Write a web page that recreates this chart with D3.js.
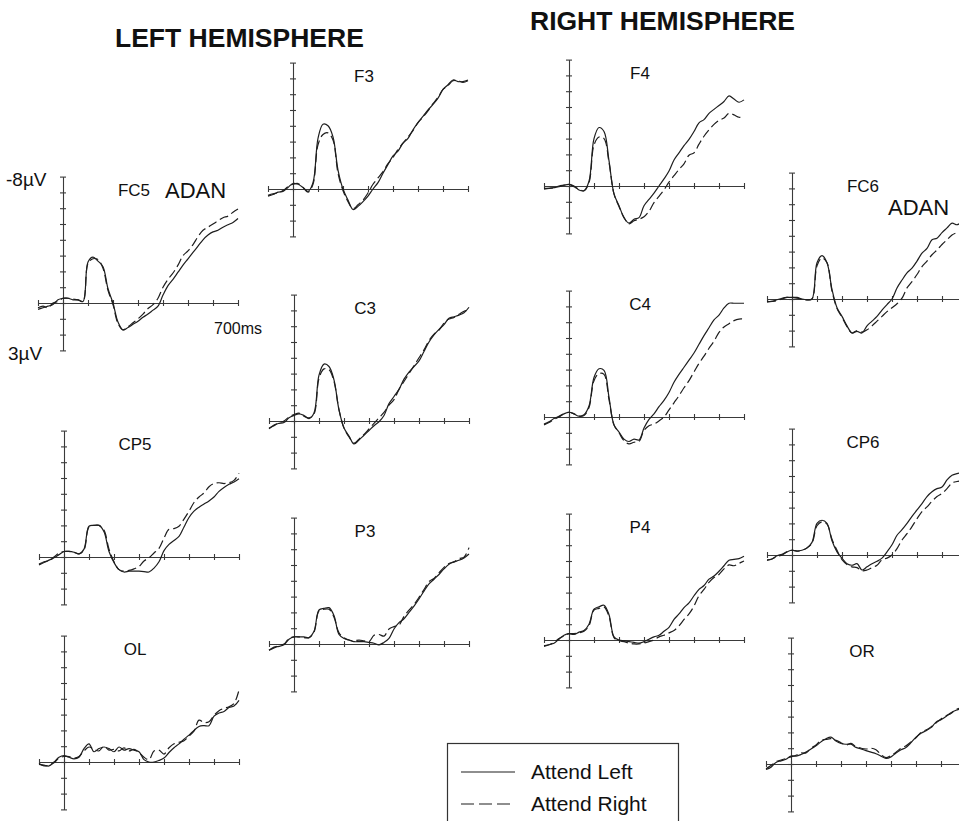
<!DOCTYPE html>
<html>
<head>
<meta charset="utf-8">
<script src="https://cdn.jsdelivr.net/npm/d3@7"></script>
<style>
  html, body { margin: 0; padding: 0; background: #fff; }
  svg { display: block; font-family: "Liberation Sans", Arial, Helvetica, sans-serif; }
  .axis path, .axis line { stroke: #3a3a3a; stroke-width: 1.1; }
  .trace { fill: none; stroke: #1e1e1e; stroke-width: 1.2; }
  .trace--right { stroke-dasharray: 9,4; }
</style>
</head>
<body>
<svg id="chart" width="959" height="821"></svg>
<script>
// sampling times, ms
var times = [-100, -80, -60, -40, -20, 0, 20, 40, 60, 80, 100, 120, 140, 160, 180, 200, 220, 240, 260, 280,
  300, 320, 340, 360, 380, 400, 420, 440, 460, 480, 500, 520, 540, 560, 580, 600, 620, 640, 660, 680, 700]

var xTicks = [-100, 0, 100, 200, 300, 400, 500, 600, 700]
var yTicks = [-8, -7, -6, -5, -4, -3, -2, -1, 0, 1, 2, 3]

var electrodes = ['FC5', 'CP5', 'OL', 'F3', 'C3', 'P3', 'F4', 'C4', 'P4', 'FC6', 'CP6', 'OR']

var conditions = ['Attend Left', 'Attend Right']

// µV, negative plotted up
var fc5Left = [0.4, 0.3, 0.2, 0.1, -0.2, -0.3, -0.3, -0.2, -0.2, -0.1, -2.6, -2.9, -2.65, -2.3, -0.9, 0.0, 1.2, 1.7, 1.55, 1.35,
  1.15, 0.9, 0.7, 0.45, 0.2, -0.5, -1.1, -1.5, -1.95, -2.4, -2.8, -3.2, -3.6, -4.0, -4.3, -4.5, -4.6, -4.8, -4.95, -5.1, -5.35]
var fc5Right = [0.3, 0.2, 0.3, 0.0, -0.1, -0.3, -0.3, -0.25, -0.2, -0.1, -2.5, -2.8, -2.75, -2.2, -0.8, 0.1, 1.3, 1.7, 1.5, 1.25,
  1.0, 0.7, 0.35, 0.1, -0.3, -1.0, -1.5, -1.9, -2.4, -3.0, -3.3, -3.7, -4.2, -4.6, -4.8, -5.0, -5.2, -5.4, -5.5, -5.75, -5.95]

var cp5Left = [0.5, 0.35, 0.2, 0.05, -0.15, -0.35, -0.35, -0.3, -0.2, -0.5, -1.95, -2.0, -2.0, -1.6, -0.35, 0.35, 0.8, 0.95, 0.9, 0.9,
  0.9, 0.92, 0.95, 0.7, 0.3, -0.4, -0.8, -1.05, -1.3, -1.9, -2.5, -2.9, -3.15, -3.35, -3.55, -3.8, -4.15, -4.4, -4.6, -4.75, -4.95]
var cp5Right = [0.45, 0.3, 0.25, 0.0, -0.25, -0.35, -0.35, -0.3, -0.2, -0.45, -1.9, -2.0, -2.0, -1.7, -0.5, 0.3, 0.8, 0.9, 0.85, 0.75,
  0.6, 0.25, 0.05, -0.25, -0.55, -1.2, -1.75, -1.8, -1.95, -2.4, -2.9, -3.45, -3.8, -4.05, -4.45, -4.65, -4.7, -4.65, -4.7, -4.85, -5.3]

var olLeft = [0.15, 0.2, 0.25, 0.0, -0.3, -0.4, -0.3, -0.2, -0.3, -0.85, -1.15, -0.65, -0.85, -0.95, -0.85, -0.65, -0.95, -0.75, -0.85, -0.75,
  -0.65, -0.15, 0.0, 0.0, -0.1, -0.25, -0.6, -0.9, -1.15, -1.45, -1.7, -2.0, -2.25, -2.3, -2.3, -2.9, -3.1, -3.2, -3.45, -3.55, -3.9]
var olRight = [0.1, 0.25, 0.2, 0.05, -0.25, -0.35, -0.35, -0.25, -0.35, -0.7, -0.95, -0.8, -0.7, -1.0, -0.75, -0.8, -0.7, -0.9, -0.7, -0.8,
  -0.6, -0.3, -0.15, -0.7, -0.75, -0.5, -0.9, -1.15, -1.25, -1.35, -1.65, -1.95, -2.65, -2.5, -2.55, -2.95, -3.25, -3.4, -3.5, -3.7, -4.55]

var f3Left = [0.45, 0.35, 0.2, 0.15, -0.1, -0.35, -0.3, -0.1, 0.15, -0.4, -3.2, -4.1, -4.0, -3.3, -1.2, 0.0, 0.7, 1.3, 1.1, 0.8,
  0.45, 0.0, -0.4, -1.0, -1.55, -2.1, -2.4, -2.9, -3.2, -3.75, -4.2, -4.6, -5.0, -5.35, -5.75, -6.3, -6.6, -6.9, -6.8, -6.8, -6.9]
var f3Right = [0.4, 0.3, 0.25, 0.1, -0.15, -0.3, -0.35, -0.1, 0.2, -0.3, -2.8, -3.45, -3.55, -3.1, -1.0, 0.1, 0.8, 1.25, 1.0, 0.7,
  0.25, -0.3, -0.7, -1.1, -1.6, -2.0, -2.5, -2.9, -3.3, -3.7, -4.2, -4.55, -4.95, -5.4, -5.8, -6.3, -6.55, -6.85, -6.85, -6.75, -6.85]

var c3Left = [0.5, 0.25, 0.15, 0.1, -0.2, -0.35, -0.45, -0.35, -0.15, -0.5, -2.9, -3.6, -3.45, -2.6, -0.7, 0.45, 0.95, 1.45, 1.2, 0.9,
  0.6, 0.3, 0.05, -0.35, -1.1, -1.55, -2.0, -2.65, -3.1, -3.45, -3.8, -4.4, -5.0, -5.45, -5.8, -6.1, -6.5, -6.6, -6.7, -6.85, -7.2]
var c3Right = [0.45, 0.3, 0.1, 0.0, -0.25, -0.4, -0.5, -0.3, -0.2, -0.45, -2.7, -3.3, -3.25, -2.5, -0.7, 0.45, 1.0, 1.4, 1.15, 0.85,
  0.5, 0.15, -0.2, -0.55, -1.0, -1.35, -2.0, -2.5, -3.0, -3.5, -4.0, -4.5, -5.1, -5.5, -5.75, -6.2, -6.45, -6.55, -6.75, -6.95, -7.0]

var p3Left = [0.4, 0.2, 0.15, 0.05, -0.3, -0.45, -0.45, -0.45, -0.4, -0.8, -2.15, -2.25, -2.3, -1.8, -0.6, -0.35, -0.25, -0.15, -0.15, -0.15,
  -0.1, -0.05, 0.05, -0.1, -0.35, -0.95, -1.35, -1.6, -2.0, -2.4, -2.85, -3.35, -3.8, -4.1, -4.4, -4.75, -5.05, -5.2, -5.3, -5.45, -5.7]
var p3Right = [0.4, 0.25, 0.1, 0.0, -0.35, -0.45, -0.45, -0.4, -0.4, -0.75, -2.1, -2.2, -2.2, -1.7, -0.7, -0.4, -0.25, -0.2, -0.25, -0.2,
  -0.15, -0.55, -0.6, -0.5, -0.95, -1.1, -1.2, -1.75, -2.15, -2.5, -2.95, -3.45, -3.95, -4.15, -4.5, -4.85, -5.1, -5.2, -5.4, -5.5, -6.1]

var f4Left = [0.15, 0.15, 0.1, 0.05, -0.05, -0.1, 0.0, 0.25, 0.3, -0.3, -3.0, -3.7, -3.45, -1.6, 0.5, 1.25, 2.0, 2.35, 2.1, 2.0,
  1.25, 0.85, 0.45, 0.0, -0.45, -0.95, -1.65, -2.1, -2.55, -2.95, -3.45, -4.0, -4.2, -4.6, -4.85, -5.1, -5.35, -5.7, -5.5, -5.3, -5.45]
var f4Right = [0.2, 0.15, 0.1, 0.0, -0.05, -0.1, 0.05, 0.2, 0.3, -0.2, -2.6, -3.1, -3.0, -1.5, 0.5, 1.3, 2.0, 2.4, 2.2, 2.1,
  1.95, 1.6, 1.05, 0.65, 0.25, -0.25, -0.65, -1.05, -1.4, -1.95, -2.1, -2.65, -3.15, -3.55, -3.9, -4.15, -4.3, -4.6, -4.5, -4.35, -4.4]

var c4Left = [0.45, 0.3, 0.1, -0.05, -0.2, -0.3, -0.2, -0.05, -0.15, -0.7, -2.5, -3.05, -2.95, -1.25, 0.5, 0.95, 1.4, 1.55, 1.4, 1.45,
  0.7, 0.15, -0.2, -0.65, -1.05, -1.55, -2.2, -2.7, -3.15, -3.6, -4.05, -4.6, -5.15, -5.65, -6.15, -6.45, -6.9, -7.2, -7.2, -7.2, -7.2]
var c4Right = [0.5, 0.35, 0.15, 0.0, -0.2, -0.3, -0.2, -0.05, -0.1, -0.6, -2.3, -2.75, -2.7, -1.1, 0.5, 1.0, 1.5, 1.7, 1.6, 1.55,
  0.85, 0.55, 0.45, 0.25, 0.0, -0.45, -0.9, -1.35, -1.85, -2.3, -2.85, -3.4, -3.85, -4.35, -4.8, -5.35, -5.7, -5.9, -6.1, -6.2, -6.2]

var p4Left = [0.4, 0.3, 0.2, -0.05, -0.3, -0.4, -0.35, -0.5, -0.6, -1.0, -1.95, -2.1, -2.2, -1.6, -0.2, 0.0, 0.05, 0.1, 0.15, 0.2,
  0.1, -0.05, -0.2, -0.3, -0.55, -0.8, -1.3, -1.65, -2.05, -2.35, -2.8, -3.2, -3.45, -3.85, -4.05, -4.35, -4.7, -5.05, -5.1, -5.15, -5.3]
var p4Right = [0.35, 0.3, 0.15, -0.1, -0.25, -0.4, -0.4, -0.45, -0.55, -0.9, -1.9, -2.0, -2.1, -1.5, -0.15, 0.05, 0.1, 0.2, 0.25, 0.25,
  0.2, 0.1, 0.0, -0.2, -0.3, -0.45, -0.6, -0.9, -1.3, -1.65, -2.15, -2.8, -3.2, -3.65, -3.95, -4.15, -4.5, -4.75, -4.7, -4.85, -5.0]

var fc6Left = [0.15, 0.15, 0.05, -0.05, -0.1, -0.1, -0.1, 0.0, 0.05, 0.0, -2.3, -2.75, -2.3, -0.6, 0.55, 1.1, 1.7, 2.15, 2.05, 2.15,
  1.7, 1.4, 1.1, 0.7, 0.35, 0.0, -0.7, -1.2, -1.65, -1.95, -2.4, -2.9, -3.2, -3.75, -3.85, -4.2, -4.5, -4.8, -4.7, -4.85, -4.95]
var fc6Right = [0.2, 0.15, 0.1, 0.0, -0.1, -0.1, -0.05, 0.0, 0.05, 0.0, -2.1, -2.6, -2.3, -0.5, 0.6, 1.15, 1.75, 2.15, 2.0, 2.1,
  1.95, 1.7, 1.4, 1.1, 0.8, 0.55, 0.3, -0.05, -0.7, -1.1, -1.55, -2.05, -2.4, -2.8, -3.1, -3.45, -3.75, -4.05, -4.2, -4.3, -4.4]

var cp6Left = [0.3, 0.25, 0.05, -0.05, -0.2, -0.3, -0.25, -0.3, -0.45, -0.8, -2.0, -2.2, -2.0, -0.9, -0.2, 0.2, 0.55, 0.65, 0.55, 0.95,
  0.75, 0.55, 0.4, 0.2, -0.2, -0.65, -1.25, -1.6, -2.0, -2.45, -2.85, -3.25, -3.7, -4.0, -4.2, -4.3, -4.75, -5.05, -5.15, -5.2, -5.2]
var cp6Right = [0.35, 0.25, 0.1, 0.0, -0.2, -0.3, -0.25, -0.3, -0.45, -0.75, -1.85, -2.1, -1.95, -1.0, -0.3, 0.3, 0.6, 0.75, 0.8, 1.0,
  0.95, 0.8, 0.65, 0.3, 0.2, 0.0, -0.4, -0.95, -1.35, -1.8, -2.3, -2.75, -3.05, -3.4, -3.7, -3.9, -4.2, -4.55, -4.65, -4.7, -4.7]

var orLeft = [0.35, 0.2, -0.1, -0.2, -0.3, -0.5, -0.5, -0.6, -0.75, -0.95, -1.15, -1.4, -1.6, -1.7, -1.45, -1.3, -1.25, -1.25, -1.05, -0.95,
  -0.85, -0.75, -0.65, -0.5, -0.35, -0.45, -0.7, -0.9, -1.05, -1.35, -1.7, -1.95, -2.1, -2.3, -2.65, -2.8, -3.0, -3.25, -3.4, -3.5, -3.6]
var orRight = [0.3, 0.1, -0.15, -0.25, -0.35, -0.45, -0.55, -0.7, -0.7, -1.0, -1.2, -1.5, -1.55, -1.6, -1.5, -1.35, -1.2, -1.3, -1.1, -1.0,
  -0.95, -1.0, -0.9, -0.6, -0.4, -0.55, -0.75, -1.0, -1.15, -1.4, -1.65, -2.0, -2.15, -2.35, -2.6, -2.85, -3.05, -3.2, -3.45, -3.55, -3.65]

var waves = {
  FC5: [fc5Left, fc5Right], CP5: [cp5Left, cp5Right], OL: [olLeft, olRight]
, F3: [f3Left, f3Right], C3: [c3Left, c3Right], P3: [p3Left, p3Right]
, F4: [f4Left, f4Right], C4: [c4Left, c4Right], P4: [p4Left, p4Right]
, FC6: [fc6Left, fc6Right], CP6: [cp6Left, cp6Right], OR: [orLeft, orRight]
}

// where each panel's origin (0 ms, 0 µV) sits on the page
var layout = {
  FC5: [63, 303], CP5: [64, 557], OL: [64, 762]
, F3: [293, 189], C3: [294, 421], P3: [294, 644]
, F4: [569, 186], C4: [569, 417], P4: [569, 640]
, FC6: [792, 299], CP6: [792, 555], OR: [791, 764]
}

var PX_PER_MS = 0.25
,   PX_PER_UV = 15.8

var svg = d3.select('#chart')

function drawPanel(name) {
  var ox = layout[name][0]
  ,   oy = layout[name][1]
  ,   x = d3.scaleLinear().domain([-100, 700]).range([ox - 100 * PX_PER_MS, ox + 700 * PX_PER_MS])
  ,   y = d3.scaleLinear().domain([-8, 3]).range([oy - 8 * PX_PER_UV, oy + 3 * PX_PER_UV])
  ,   g = svg.append('g').attr('class', 'panel panel--' + name)

  var xAxis = g.append('g')
    .attr('class', 'axis')
    .attr('transform', 'translate(0,' + y(0) + ')')
    .call(d3.axisBottom(x).tickValues(xTicks).tickFormat('').tickSizeOuter(0))
  xAxis.selectAll('.tick line').attr('y1', -3).attr('y2', 3)

  var yAxis = g.append('g')
    .attr('class', 'axis')
    .attr('transform', 'translate(' + x(0) + ',0)')
    .call(d3.axisLeft(y).tickValues(yTicks).tickFormat('').tickSizeOuter(0))
  yAxis.selectAll('.tick line').attr('x1', -3).attr('x2', 3)

  var line = d3.line()
    .x((d, i) => x(times[i]))
    .y((d) => y(d))
    .curve(d3.curveCatmullRom.alpha(0.5))

  g.selectAll('.trace')
    .data(waves[name])
    .enter()
    .append('path')
    .attr('class', (d, i) => i ? 'trace trace--right' : 'trace trace--left')
    .attr('d', line)

  g.append('text')
    .attr('x', x(0) + 71)
    .attr('y', y(0) - 107)
    .attr('text-anchor', 'middle')
    .attr('font-size', 17)
    .attr('fill', '#111')
    .text(name)
}

electrodes.forEach(drawPanel)

function label(txt, x, y, size, weight) {
  svg.append('text')
    .attr('x', x)
    .attr('y', y)
    .attr('font-size', size)
    .attr('font-weight', weight || 'normal')
    .attr('fill', '#111')
    .text(txt)
}

label('LEFT HEMISPHERE', 115, 47, 26.5, 'bold')
label('RIGHT HEMISPHERE', 530, 30, 26.5, 'bold')
label('ADAN', 165, 198, 22)
label('ADAN', 888, 215, 22)
label('-8\u00b5V', 6, 186, 19)
label('3\u00b5V', 8, 360, 19)
label('700ms', 214, 334, 16)

// legend
var legend = svg.append('g').attr('class', 'legend')
legend.append('rect')
  .attr('x', 447.5).attr('y', 743.5)
  .attr('width', 231).attr('height', 100)
  .attr('fill', 'none').attr('stroke', '#333').attr('stroke-width', 1.2)

conditions.forEach((c, i) => {
  var ly = 772 + i * 32
  legend.append('line')
    .attr('class', i ? 'trace trace--right' : 'trace')
    .attr('x1', 461).attr('x2', 515)
    .attr('y1', ly).attr('y2', ly)
    .style('stroke-dasharray', i ? '13,5' : null)
  legend.append('text')
    .attr('x', 531).attr('y', ly + 7)
    .attr('font-size', 21)
    .attr('fill', '#111')
    .text(c)
})
</script>
</body>
</html>
